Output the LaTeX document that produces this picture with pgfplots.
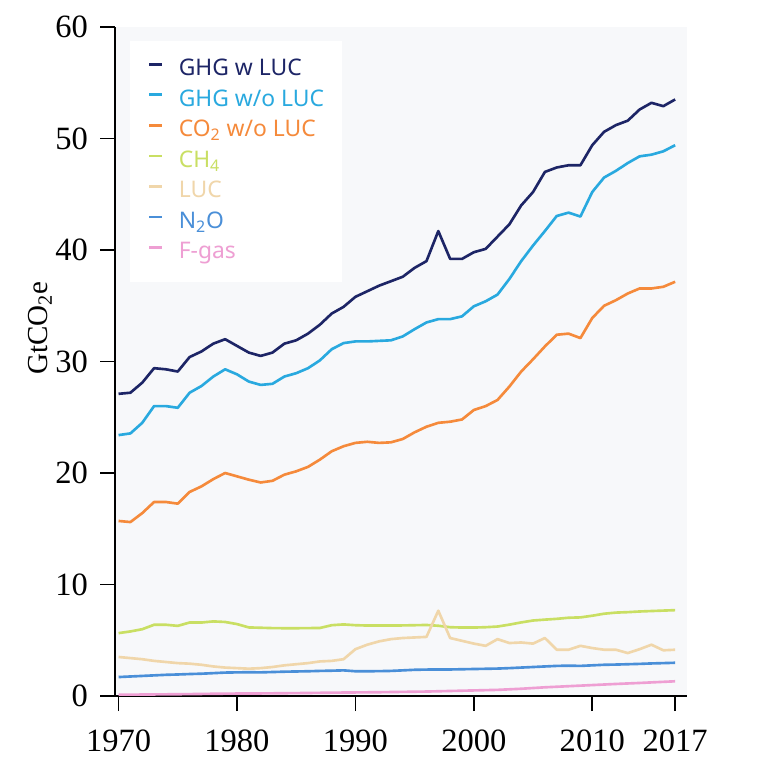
\documentclass[border=0pt]{standalone}
\usepackage{fontspec}
\setmainfont{Liberation Serif}
\newfontfamily\legfont{Noto Sans}
\usepackage{pgfplots}
\usepackage{pgfplotstable}
\pgfplotsset{compat=1.18}

\definecolor{panel}{HTML}{F7F8FA}
\definecolor{ghgw}{HTML}{1D2566}
\definecolor{ghgwo}{HTML}{29A9DF}
\definecolor{cotwo}{HTML}{F58A3B}
\definecolor{chfour}{HTML}{C9DF63}
\definecolor{luc}{HTML}{F0D6AA}
\definecolor{ntwoo}{HTML}{4A8FD8}
\definecolor{fgas}{HTML}{EE9FD3}

% year, GHG w LUC, GHG w/o LUC, CO2 w/o LUC, CH4, LUC, N2O
\pgfplotstableread{
year ghgw  ghgwo co2   ch4  luc  n2o
1970 27.1  23.4  15.7  5.64 3.50 1.70
1971 27.2  23.55 15.6  5.79 3.40 1.75
1972 28.1  24.5  16.4  5.99 3.30 1.80
1973 29.4  26.0  17.4  6.39 3.15 1.85
1974 29.3  26.0  17.4  6.39 3.05 1.90
1975 29.1  25.85 17.25 6.29 2.95 1.93
1976 30.4  27.2  18.3  6.59 2.90 1.97
1977 30.9  27.8  18.8  6.59 2.80 2.00
1978 31.6  28.65 19.45 6.69 2.65 2.05
1979 32.0  29.3  20.0  6.64 2.55 2.10
1980 31.4  28.85 19.7  6.45 2.50 2.12
1981 30.8  28.2  19.4  6.15 2.45 2.13
1982 30.5  27.9  19.15 6.12 2.50 2.12
1983 30.8  28.0  19.3  6.09 2.60 2.15
1984 31.6  28.65 19.85 6.08 2.75 2.18
1985 31.9  28.95 20.15 6.08 2.85 2.20
1986 32.5  29.4  20.55 6.09 2.95 2.22
1987 33.3  30.1  21.2  6.10 3.10 2.25
1988 34.3  31.1  21.95 6.35 3.15 2.27
1989 34.9  31.65 22.4  6.42 3.30 2.30
1990 35.8  31.8  22.7  6.35 4.20 2.22
1991 36.3  31.8  22.8  6.32 4.60 2.22
1992 36.8  31.85 22.7  6.32 4.90 2.23
1993 37.2  31.9  22.75 6.32 5.10 2.25
1994 37.6  32.25 23.05 6.33 5.20 2.30
1995 38.4  32.9  23.65 6.35 5.25 2.35
1996 39.0  33.5  24.15 6.37 5.30 2.37
1997 41.7  33.8  24.5  6.30 7.65 2.38
1998 39.2  33.8  24.6  6.17 5.20 2.38
1999 39.2  34.05 24.8  6.14 4.95 2.40
2000 39.8  34.95 25.65 6.14 4.70 2.42
2001 40.1  35.4  26.0  6.17 4.50 2.44
2002 41.2  36.0  26.55 6.23 5.10 2.46
2003 42.3  37.4  27.75 6.40 4.75 2.50
2004 44.0  39.0  29.1  6.60 4.80 2.55
2005 45.2  40.4  30.2  6.77 4.70 2.60
2006 47.0  41.7  31.35 6.85 5.20 2.65
2007 47.4  43.05 32.4  6.92 4.15 2.70
2008 47.6  43.35 32.5  7.02 4.15 2.72
2009 47.6  43.0  32.1  7.05 4.50 2.70
2010 49.4  45.2  33.9  7.20 4.30 2.75
2011 50.6  46.5  35.0  7.38 4.15 2.80
2012 51.2  47.1  35.5  7.48 4.15 2.82
2013 51.6  47.8  36.1  7.52 3.85 2.85
2014 52.6  48.4  36.55 7.58 4.20 2.88
2015 53.2  48.55 36.55 7.62 4.60 2.92
2016 52.9  48.85 36.7  7.66 4.10 2.95
2017 53.5  49.4  37.15 7.70 4.15 2.98
}\emissions

\begin{document}
\begin{tikzpicture}
\begin{axis}[
    scale only axis,
    width=11.44cm, height=13.38cm,
    xmin=1969.7, xmax=2018,
    ymin=0, ymax=60,
    axis lines*=left,
    axis line style={black, line width=0.9pt},
    axis background/.style={fill=panel},
    tick align=outside,
    major tick length=0.3cm,
    tick style={black, line width=0.9pt},
    xtick={1970,1980,1990,2000,2010,2017},
    xticklabels={1970,1980,1990,2000,2010,2017},
    ytick={0,10,20,30,40,50,60},
    /pgf/number format/assume math mode=true,
    ticklabel style={font=\fontsize{18.5}{21}\selectfont},
    yticklabel style={xshift=-0.12cm},
    xticklabel style={yshift=-0.25cm},
    ylabel={GtCO\textsubscript{2}e},
    ylabel style={font=\fontsize{16.5}{19}\selectfont, at={(axis description cs:-0.131,0.55)}, anchor=center},
    legend cell align=left,
    legend image code/.code={\draw[#1, line width=1.5pt] (0cm,0.11cm) -- (0.25cm,0.11cm);},
    legend style={
        at={(axis description cs:0.026,0.98)}, anchor=north west,
        fill=white, draw=none,
        font=\legfont\fontsize{13}{15}\selectfont,
        inner xsep=0.35cm, inner ysep=0.36cm,
        nodes={inner sep=0pt, text height=9.5pt, text depth=3pt},
        row sep=4.9pt, column sep=0.32cm,
    },
    every axis plot/.append style={line width=1.5pt, line join=round},
]
\addplot[color=ghgw] table[x=year, y=ghgw] {\emissions};
\addlegendentry{\textcolor{ghgw}{GHG w LUC}}
\addplot[color=ghgwo] table[x=year, y=ghgwo] {\emissions};
\addlegendentry{\textcolor{ghgwo}{GHG w/o LUC}}
\addplot[color=cotwo] table[x=year, y=co2] {\emissions};
\addlegendentry{\textcolor{cotwo}{CO\textsubscript{2} w/o LUC}}
\addplot[color=chfour] table[x=year, y=ch4] {\emissions};
\addlegendentry{\textcolor{chfour}{CH\textsubscript{4}}}
\addplot[color=luc] table[x=year, y=luc] {\emissions};
\addlegendentry{\textcolor{luc}{LUC}}
\addplot[color=ntwoo] table[x=year, y=n2o] {\emissions};
\addlegendentry{\textcolor{ntwoo}{N\textsubscript{2}O}}
\addplot[color=fgas] coordinates {
    (1970,0.12)(1972,0.13)(1974,0.15)(1976,0.17)(1978,0.20)(1980,0.22)
    (1982,0.23)(1984,0.25)(1986,0.27)(1988,0.30)(1990,0.32)(1992,0.34)
    (1994,0.37)(1996,0.40)(1998,0.45)(2000,0.50)(2002,0.55)(2004,0.65)
    (2006,0.78)(2008,0.88)(2010,0.98)(2012,1.08)(2014,1.17)(2016,1.27)
    (2017,1.32)
};
\addlegendentry{\textcolor{fgas}{F-gas}}
\end{axis}
\pgfresetboundingbox
\path[use as bounding box] (-2.3,-1.24) rectangle (13.3,13.92);
\end{tikzpicture}
\end{document}
